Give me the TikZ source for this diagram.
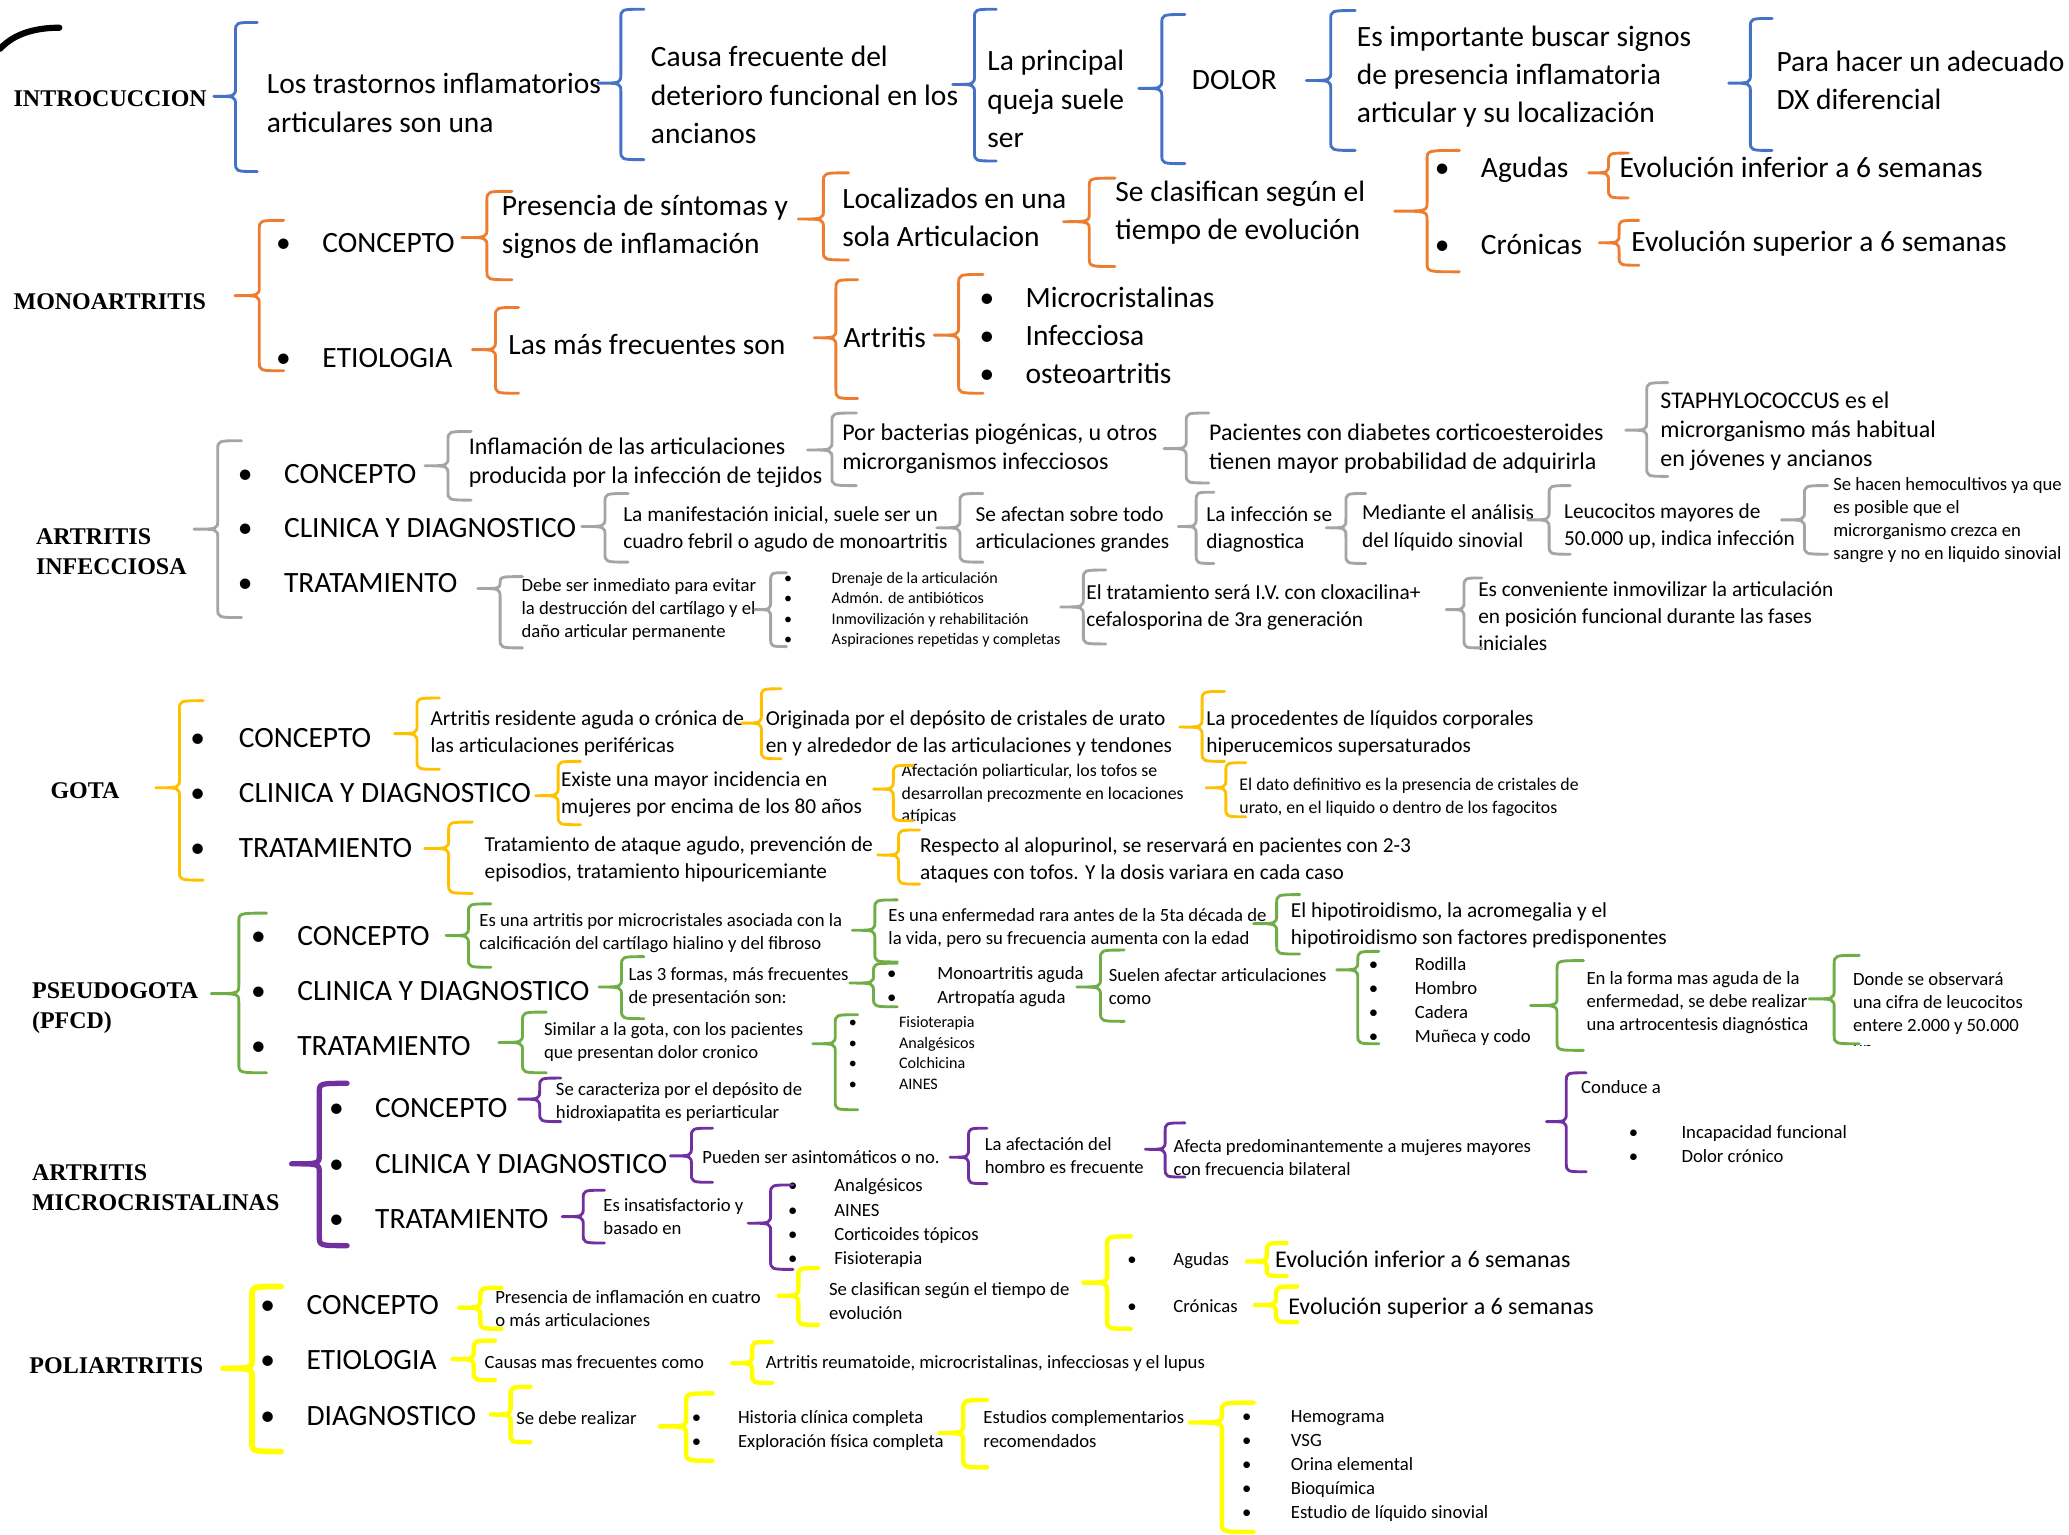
\documentclass[tikz,border=0pt]{standalone}
\usepackage{fontspec}
\usepackage{tikz}
\setmainfont{Carlito}
\newfontfamily\headfont{Liberation Serif}

\definecolor{cblue}{HTML}{4472C4}
\definecolor{corange}{HTML}{ED7D31}
\definecolor{cgray}{HTML}{A5A5A5}
\definecolor{cgold}{HTML}{FFC000}
\definecolor{cgreen}{HTML}{70AD47}
\definecolor{cpurple}{HTML}{7030A0}
\definecolor{cyellow}{HTML}{FFFF00}

\newcommand{\fA}{\fontsize{13.4pt}{17.4pt}\selectfont}
\newcommand{\fB}{\fontsize{10.9pt}{13.2pt}\selectfont}
\newcommand{\fC}{\fontsize{9.7pt}{12.3pt}\selectfont}
\newcommand{\fD}{\fontsize{8.5pt}{10.5pt}\selectfont}
\newcommand{\fL}{\fontsize{8.5pt}{11pt}\selectfont}
\newcommand{\fF}{\fontsize{8.1pt}{10.4pt}\selectfont}
\newcommand{\fE}{\fontsize{7.3pt}{9.3pt}\selectfont}
\newcommand{\fH}{\fontsize{10.9pt}{13.5pt}\selectfont\headfont\bfseries}

\newcommand{\itm}[2][21pt]{\makebox[#1][l]{\textbullet}#2}

% [options]{colour}{x ends}{x tip}{y top}{y tip}{y bottom}
\newcommand{\brc}[7][]{%
   \pgfmathsetmacro{\bxm}{(#3+#4)/2}%
   \pgfmathsetmacro{\bra}{min(7,(#6-#5)/2)}%
   \pgfmathsetmacro{\brb}{min(7,(#7-#6)/2)}%
   \draw[brk,#2,#1] (#3,#5) .. controls (\bxm,#5) .. (\bxm,#5+\bra)
      -- (\bxm,#6-\bra) .. controls (\bxm,#6) .. (#4,#6)
      .. controls (\bxm,#6) .. (\bxm,#6+\brb)
      -- (\bxm,#7-\brb) .. controls (\bxm,#7) .. (#3,#7);}

\begin{document}
\begin{tikzpicture}[x=0.6pt,y=-0.6pt,
   txt/.style={anchor=west,inner sep=0pt,align=left},
   head/.style={txt,font=\fH},
   brk/.style={line width=1.3pt,line cap=round,line join=round}]
   \useasboundingbox (0,0) rectangle (1568,1163);
   \draw[line width=2.8pt,line cap=round] (0,37) .. controls (12,24) and (30,21) .. (45,21);

   % introduccion
   \node[head] (intro) at (10,75) {INTROCUCCION};
   \node[txt,font=\fA] (intro_1) at (202,78) {Los trastornos inflamatorios\\articulares son una};
   \node[txt,font=\fA] (intro_2) at (493,72) {Causa frecuente del\\deterioro funcional en los\\ancianos};
   \node[txt,font=\fA] (intro_3) at (748,75) {La principal\\queja suele\\ser};
   \node[txt,font=\fA] (intro_4) at (903,61) {DOLOR};
   \node[txt,font=\fA] (intro_5) at (1028,58) {Es importante buscar signos\\de presencia inflamatoria\\articular y su localización};
   \node[txt,font=\fA] (intro_6) at (1346,61) {Para hacer un adecuado\\DX diferencial};
   \brc{cblue}{195}{162}{17}{73}{130}
   \brc{cblue}{488}{453}{7}{63}{121}
   \brc{cblue}{755}{722}{7}{64}{122}
   \brc{cblue}{898}{863}{11}{67}{124}
   \brc{cblue}{1027}{990}{8}{61}{114}
   \brc{cblue}{1343}{1310}{14}{63}{114}

   % monoartritis
   \node[head] (mono) at (10,229) {MONOARTRITIS};
   \node[txt,font=\fA] (mono_c) at (209,184) {\itm{CONCEPTO}};
   \node[txt,font=\fA] (mono_e) at (209,271) {\itm{ETIOLOGIA}};
   \node[txt,font=\fA] (mono_1) at (380,172) {Presencia de síntomas y\\signos de inflamación};
   \node[txt,font=\fA] (mono_2) at (638,165) {Localizados en una\\sola Articulacion};
   \node[txt,font=\fA] (mono_3) at (845,161) {Se clasifican según el\\tiempo de evolución};
   \node[txt,font=\fA] (mono_a) at (1087,129) {\itm{Agudas}};
   \node[txt,font=\fA] (mono_b) at (1087,185) {\itm{Crónicas}};
   \node[txt,font=\fA] (mono_4) at (1227,127) {Evolución inferior a 6 semanas};
   \node[txt,font=\fA] (mono_5) at (1236,185) {Evolución superior a 6 semanas};
   \node[txt,font=\fA] (mono_6) at (385,261) {Las más frecuentes son};
   \node[txt,font=\fA] (mono_7) at (639,256) {Artritis};
   \node[txt,font=\fA] (mono_8) at (742,254) {\itm{Microcristalinas}\\\itm{Infecciosa}\\\itm{osteoartritis}};
   \brc{corange}{215}{178}{167}{224}{281}
   \brc{corange}{388}{350}{145}{180}{212}
   \brc{corange}{643}{605}{131}{166}{197}
   \brc{corange}{845}{806}{135}{168}{202}
   \brc{corange}{1106}{1057}{114}{160}{206}
   \brc{corange}{1234}{1204}{116}{131}{150}
   \brc{corange}{1242}{1212}{167}{184}{201}
   \brc{corange}{393}{358}{233}{265}{298}
   \brc{corange}{650}{617}{212}{256}{302}
   \brc{corange}{745}{708}{208}{254}{298}

   % artritis infecciosa
   \node[head] (inf) at (27,418) {ARTRITIS\\INFECCIOSA};
   \node[txt,font=\fA] (inf_c) at (180,359) {\itm{CONCEPTO}};
   \node[txt,font=\fA] (inf_d) at (180,400) {\itm{CLINICA Y DIAGNOSTICO}};
   \node[txt,font=\fA] (inf_t) at (180,442) {\itm{TRATAMIENTO}};
   \node[txt,font=\fB] (inf_1) at (355,351) {Inflamación de las articulaciones\\producida por la infección de tejidos};
   \node[txt,font=\fB] (inf_2) at (638,340) {Por bacterias piogénicas, u otros\\microrganismos infecciosos};
   \node[txt,font=\fB] (inf_3) at (916,340) {Pacientes con diabetes corticoesteroides\\tienen mayor probabilidad de adquirirla};
   \node[txt,font=\fB] (inf_4) at (1258,327) {STAPHYLOCOCCUS es el\\microrganismo más habitual\\en jóvenes y ancianos};
   \node[txt,font=\fC] (inf_5) at (472,401) {La manifestación inicial, suele ser un\\cuadro febril o agudo de monoartritis};
   \node[txt,font=\fC] (inf_6) at (739,401) {Se afectan sobre todo\\articulaciones grandes};
   \node[txt,font=\fC] (inf_7) at (914,401) {La infección se\\diagnostica};
   \node[txt,font=\fC] (inf_8) at (1032,400) {Mediante el análisis\\del líquido sinovial};
   \node[txt,font=\fC] (inf_9) at (1185,399) {Leucocitos mayores de\\50.000 up, indica infección};
   \node[txt,font=\fD] (inf_10) at (1389,394) {Se hacen hemocultivos ya que\\es posible que el\\microrganismo crezca en\\sangre y no en liquido sinovial};
   \node[txt,font=\fD] (inf_11) at (395,462) {Debe ser inmediato para evitar\\la destrucción del cartílago y el\\daño articular permanente};
   \node[txt,font=\fE] (inf_12) at (594,462) {\itm[21.6pt]{Drenaje de la articulación}\\\itm[21.6pt]{Admón. de antibióticos}\\\itm[21.6pt]{Inmovilización y rehabilitación}\\\itm[21.6pt]{Aspiraciones repetidas y completas}};
   \node[txt,font=\fC] (inf_13) at (823,460) {El tratamiento será I.V. con cloxacilina+\\cefalosporina de 3ra generación};
   \node[txt,font=\fC] (inf_14) at (1120,467) {Es conveniente inmovilizar la articulación\\en posición funcional durante las fases\\iniciales};
   \brc{cgray}{183}{147}{334}{401}{468}
   \brc{cgray}{357}{322}{327}{353}{379}
   \brc{cgray}{649}{612}{313}{341}{368}
   \brc{cgray}{916}{882}{313}{340}{366}
   \brc{cgray}{1264}{1232}{290}{326}{361}
   \brc{cgray}{476}{441}{374}{399}{426}
   \brc{cgray}{745}{710}{374}{400}{426}
   \brc{cgray}{920}{893}{373}{399}{427}
   \brc{cgray}{1035}{1005}{374}{400}{427}
   \brc{cgray}{1190}{1158}{368}{394}{420}
   \brc{cgray}{1385}{1350}{368}{394}{420}
   \brc{cgray}{396}{362}{437}{446}{491}
   \brc{cgray}{596}{572}{434}{462}{490}
   \brc{cgray}{838}{804}{432}{460}{488}
   \brc{cgray}{1123}{1096}{438}{462}{491}

   % gota
   \node[head] (gota) at (38,599) {GOTA};
   \node[txt,font=\fA] (gota_c) at (144,559) {\itm[22pt]{CONCEPTO}};
   \node[txt,font=\fA] (gota_d) at (144,601) {\itm[22pt]{CLINICA Y DIAGNOSTICO}};
   \node[txt,font=\fA] (gota_t) at (144,643) {\itm[22pt]{TRATAMIENTO}};
   \node[txt,font=\fC] (gota_1) at (326,556) {Artritis residente aguda o crónica de\\las articulaciones periféricas};
   \node[txt,font=\fC] (gota_2) at (580,556) {Originada por el depósito de cristales de urato\\en y alrededor de las articulaciones y tendones};
   \node[txt,font=\fC] (gota_3) at (914,556) {La procedentes de líquidos corporales\\hiperucemicos supersaturados};
   \node[txt,font=\fC] (gota_4) at (425,602) {Existe una mayor incidencia en\\mujeres por encima de los 80 años};
   \node[txt,font=\fF] (gota_5) at (683,602) {Afectación poliarticular, los tofos se\\desarrollan precozmente en locaciones\\atípicas};
   \node[txt,font=\fF] (gota_6) at (939,604) {El dato definitivo es la presencia de cristales de\\urato, en el liquido o dentro de los fagocitos};
   \node[txt,font=\fC] (gota_7) at (367,651) {Tratamiento de ataque agudo, prevención de\\episodios, tratamiento hipouricemiante};
   \node[txt,font=\fC] (gota_8) at (697,652) {Respecto al alopurinol, se reservará en pacientes con 2-3\\ataques con tofos. Y la dosis variara en cada caso};
   \brc{cgold}{154}{118}{531}{597}{667}
   \brc{cgold}{333}{299}{529}{556}{583}
   \brc{cgold}{592}{562}{522}{548}{575}
   \brc{cgold}{928}{894}{524}{551}{577}
   \brc{cgold}{440}{406}{577}{603}{625}
   \brc{cgold}{692}{662}{580}{598}{622}
   \brc{cgold}{944}{914}{578}{597}{619}
   \brc{cgold}{358}{322}{623}{643}{677}
   \brc{cgold}{697}{665}{629}{648}{670}

   % pseudogota
   \node[head] (pseudo) at (24,764) {PSEUDOGOTA\\(PFCD)};
   \node[txt,font=\fA] (pseudo_c) at (190,709) {\itm{CONCEPTO}};
   \node[txt,font=\fA] (pseudo_d) at (190,751) {\itm{CLINICA Y DIAGNOSTICO}};
   \node[txt,font=\fA] (pseudo_t) at (190,793) {\itm{TRATAMIENTO}};
   \node[txt,font=\fD] (pseudo_1) at (363,707) {Es una artritis por microcristales asociada con la\\calcificación del cartílago hialino y del fibroso};
   \node[txt,font=\fD] (pseudo_2) at (673,703) {Es una enfermedad rara antes de la 5ta década de\\la vida, pero su frecuencia aumenta con la edad};
   \node[txt,font=\fC] (pseudo_3) at (978,701) {El hipotiroidismo, la acromegalia y el\\hipotiroidismo son factores predisponentes};
   \node[txt,font=\fD] (pseudo_4) at (476,748) {Las 3 formas, más frecuentes\\de presentación son:};
   \node[txt,font=\fL] (pseudo_5) at (672,748) {\itm[22.8pt]{Monoartritis aguda}\\\itm[22.8pt]{Artropatía aguda}};
   \node[txt,font=\fD] (pseudo_6) at (840,748) {Suelen afectar articulaciones\\como};
   \node[txt,font=\fL] (pseudo_7) at (1037,759) {\itm{Rodilla}\\\itm{Hombro}\\\itm{Cadera}\\\itm{Muñeca y codo}};
   \node[txt,font=\fD] (pseudo_8) at (1202,760) {En la forma mas aguda de la\\enfermedad, se debe realizar\\una artrocentesis diagnóstica};
   \begin{scope}
      \clip (1395,715) rectangle (1568,792);
      \node[txt,font=\fD] (pseudo_9) at (1404,769) {Donde se observará\\una cifra de leucocitos\\entere 2.000 y 50.000\\up};
   \end{scope}
   \node[txt,font=\fD] (pseudo_10) at (412,790) {Similar a la gota, con los pacientes\\que presentan dolor cronico};
   \node[txt,font=\fE] (pseudo_11) at (643,798) {\itm[22.8pt]{Fisioterapia}\\\itm[22.8pt]{Analgésicos}\\\itm[22.8pt]{Colchicina}\\\itm[22.8pt]{AINES}};
   \brc{cgreen}{202}{160}{692}{753}{813}
   \brc{cgreen}{372}{338}{685}{709}{733}
   \brc{cgreen}{680}{646}{682}{705}{729}
   \brc{cgreen}{985}{950}{678}{700}{723}
   \brc{cgreen}{488}{454}{725}{748}{772}
   \brc{cgreen}{680}{644}{730}{745}{763}
   \brc{cgreen}{852}{816}{720}{748}{774}
   \brc{cgreen}{1045}{1013}{721}{735}{791}
   \brc{cgreen}{1200}{1160}{728}{762}{796}
   \brc{cgreen}{1409}{1371}{724}{757}{791}
   \brc{cgreen}{414}{378}{767}{790}{813}
   \brc{cgreen}{650}{616}{769}{791}{841}

   % artritis microcristalinas
   \node[head] (micro) at (24,900) {ARTRITIS\\MICROCRISTALINAS};
   \node[txt,font=\fA] (micro_c) at (249,840) {\itm{CONCEPTO}};
   \node[txt,font=\fA] (micro_d) at (249,882) {\itm{CLINICA Y DIAGNOSTICO}};
   \node[txt,font=\fA] (micro_t) at (249,924) {\itm{TRATAMIENTO}};
   \node[txt,font=\fD] (micro_1) at (421,835) {Se caracteriza por el depósito de\\hidroxiapatita es periarticular};
   \node[txt,font=\fD] (micro_2) at (532,877) {Pueden ser asintomáticos o no.};
   \node[txt,font=\fD] (micro_3) at (746,876) {La afectación del\\hombro es frecuente};
   \node[txt,font=\fD] (micro_4) at (889,877) {Afecta predominantemente a mujeres mayores\\con frecuencia bilateral};
   \node[txt,font=\fD] (micro_5) at (1198,824) {Conduce a};
   \node[txt,font=\fL] (micro_6) at (1234,867) {\itm[24pt]{Incapacidad funcional}\\\itm[24pt]{Dolor crónico}};
   \node[txt,font=\fD] (micro_7) at (457,922) {Es insatisfactorio y\\basado en};
   \node[txt,font=\fL] (micro_8) at (597,927) {\itm{Analgésicos}\\\itm{AINES}\\\itm{Corticoides tópicos}\\\itm{Fisioterapia}};
   \brc[line width=2.4pt]{cpurple}{263}{221}{821}{882}{944}
   \brc{cpurple}{425}{393}{817}{833}{850}
   \brc{cpurple}{540}{508}{855}{876}{896}
   \brc{cpurple}{748}{720}{855}{877}{897}
   \brc{cpurple}{898}{868}{851}{871}{892}
   \brc{cpurple}{1202}{1172}{813}{850}{888}
   \brc{cpurple}{458}{426}{902}{922}{942}
   \brc{cpurple}{601}{567}{898}{927}{962}

   % poliartritis
   \node[head] (poli) at (22,1035) {POLIARTRITIS};
   \node[txt,font=\fA] (poli_c) at (197,989) {\itm{CONCEPTO}};
   \node[txt,font=\fA] (poli_e) at (197,1031) {\itm{ETIOLOGIA}};
   \node[txt,font=\fA] (poli_d) at (197,1073) {\itm{DIAGNOSTICO}};
   \node[txt,font=\fD] (poli_1) at (375,992) {Presencia de inflamación en cuatro\\o más articulaciones};
   \node[txt,font=\fD] (poli_2) at (628,986) {Se clasifican según el tiempo de\\evolución};
   \node[txt,font=\fD] (poli_a) at (854,955) {\itm{Agudas}};
   \node[txt,font=\fD] (poli_b) at (854,990) {\itm{Crónicas}};
   \node[txt,font=\fB] (poli_3) at (966,954) {Evolución inferior a 6 semanas};
   \node[txt,font=\fB] (poli_4) at (976,991) {Evolución superior a 6 semanas};
   \node[txt,font=\fD] (poli_5) at (367,1032) {Causas mas frecuentes como};
   \node[txt,font=\fD] (poli_6) at (580,1033) {Artritis reumatoide, microcristalinas, infecciosas y el lupus};
   \node[txt,font=\fD] (poli_7) at (391,1075) {Se debe realizar};
   \node[txt,font=\fL] (poli_8) at (524,1084) {\itm{Historia clínica completa}\\\itm{Exploración física completa}};
   \node[txt,font=\fD] (poli_9) at (745,1083) {Estudios complementarios\\recomendados};
   \node[txt,font=\fL] (poli_10) at (941,1111) {\itm[22.2pt]{Hemograma}\\\itm[22.2pt]{VSG}\\\itm[22.2pt]{Orina elemental}\\\itm[22.2pt]{Bioquímica}\\\itm[22.2pt]{Estudio de líquido sinovial}};
   \brc[line width=2.6pt]{cyellow}{213}{169}{975}{1037}{1100}
   \brc[line width=2pt]{cyellow}{380}{348}{976}{991}{1007}
   \brc[line width=2pt]{cyellow}{620}{590}{961}{982}{1004}
   \brc[line width=2pt]{cyellow}{857}{821}{937}{972}{1007}
   \brc[line width=2pt]{cyellow}{975}{945}{942}{956}{967}
   \brc[line width=2pt]{cyellow}{983}{951}{975}{989}{1002}
   \brc[line width=2pt]{cyellow}{375}{343}{1016}{1030}{1046}
   \brc[line width=2pt]{cyellow}{585}{555}{1017}{1033}{1048}
   \brc[line width=2pt]{cyellow}{402}{372}{1051}{1072}{1093}
   \brc[line width=2pt]{cyellow}{540}{500}{1056}{1081}{1107}
   \brc[line width=2pt]{cyellow}{748}{712}{1061}{1086}{1112}
   \brc[line width=2pt]{cyellow}{950}{902}{1063}{1078}{1161}
\end{tikzpicture}
\end{document}
